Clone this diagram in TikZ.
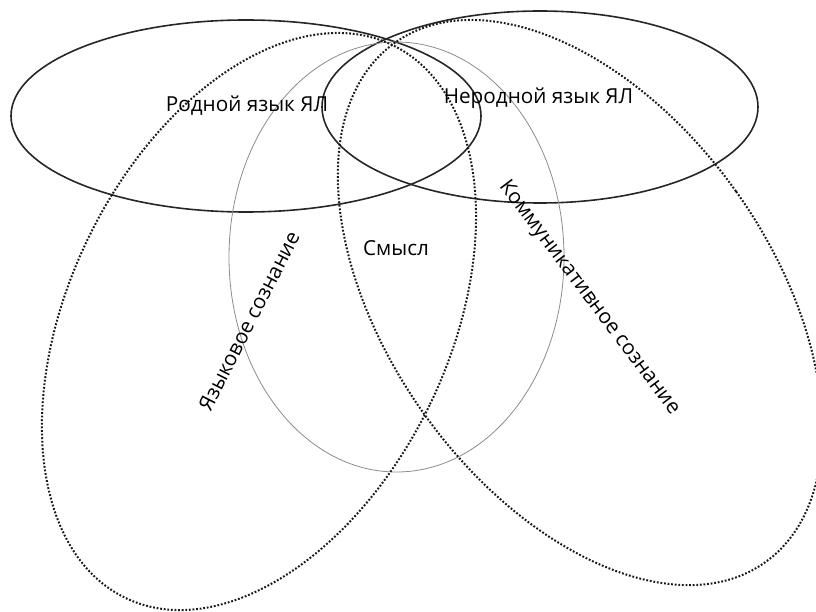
\documentclass[tikz,border=0pt]{standalone}
\usepackage{fontspec}
\setmainfont{Open Sans}
\begin{document}
\begin{tikzpicture}[x=1pt,y=1pt,
  solidring/.style={line width=1.6pt, color=black!85},
  greyring/.style={line width=0.8pt, color=black!45},
  dotring/.style={line width=2pt, dash pattern=on 1.8pt off 1.8pt, color=black!90},
  lbl/.style={font=\fontsize{20.7}{24}\selectfont, inner sep=0pt}]
\useasboundingbox (0,0) rectangle (816,611);
% centres of the rings
\coordinate (rodc) at (246,495);
\coordinate (nerc) at (540,504);
\coordinate (smc) at (396.5,354);
\coordinate (yazc) at (259,289.5);
\coordinate (komc) at (580,308.5);
% rings
\draw[solidring] (rodc) ellipse [x radius=235, y radius=96];
\draw[solidring] (nerc) ellipse [x radius=218, y radius=96];
\draw[greyring] (smc) ellipse [x radius=167.5, y radius=215];
\draw[dotring, rotate around={-25.8:(yazc)}] (yazc) ellipse [x radius=190, y radius=307];
\draw[dotring, rotate around={35.5:(komc)}] (komc) ellipse [x radius=191.6, y radius=319];
% labels
\node[lbl] (rod) at (247,505) {Родной язык ЯЛ};
\node[lbl] (ner) at (538.5,513) {Неродной язык ЯЛ};
\node[lbl] (sm) at (396,363) {Смысл};
\node[lbl, rotate=63] (yaz) at (249,290) {Языковое сознание};
\node[lbl, rotate=-53] (kom) at (589,313) {Коммуникативное сознание};
\end{tikzpicture}
\end{document}
